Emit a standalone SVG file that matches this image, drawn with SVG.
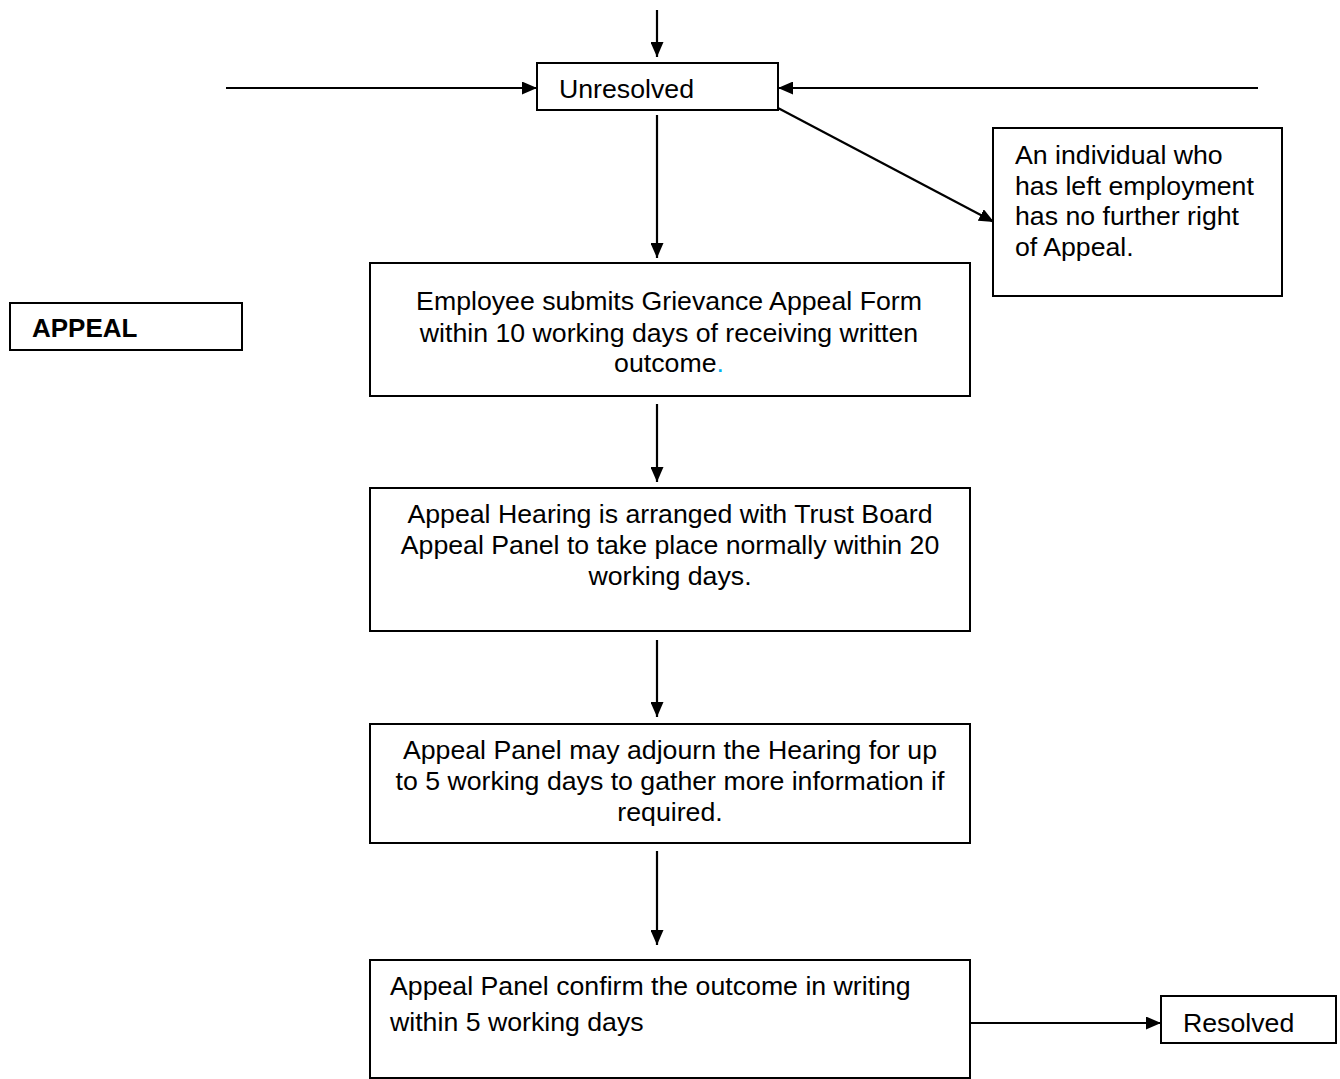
<svg xmlns="http://www.w3.org/2000/svg" width="1340" height="1079" viewBox="0 0 1340 1079">
<style>
.box{fill:#fff;stroke:#000;stroke-width:2}
.t{font-family:"Liberation Sans",Arial,sans-serif;font-size:26.7px;fill:#000}
.c{text-anchor:middle}
.b{font-weight:bold;font-size:26px}
.ln{stroke:#000;stroke-width:2.2;fill:none;marker-end:url(#ah)}
</style>
<defs>
<marker id="ah" viewBox="0 0 15 13" refX="15" refY="6.5" markerWidth="15" markerHeight="13" markerUnits="userSpaceOnUse" orient="auto">
<path d="M0,0 L15,6.5 L0,13 z" fill="#000"/>
</marker>
</defs>
<g id="connectors">
<line class="ln" x1="657" y1="10" x2="657" y2="57"/>
<line class="ln" x1="226" y1="88" x2="537" y2="88"/>
<line class="ln" x1="1258" y1="88" x2="778" y2="88"/>
<line class="ln" x1="778" y1="108" x2="994" y2="222"/>
<line class="ln" x1="657" y1="115" x2="657" y2="258"/>
<line class="ln" x1="657" y1="404" x2="657" y2="482"/>
<line class="ln" x1="657" y1="640" x2="657" y2="717"/>
<line class="ln" x1="657" y1="851" x2="657" y2="945"/>
<line class="ln" x1="970" y1="1023" x2="1161" y2="1023"/>
</g>
<g id="unresolved">
<rect class="box" x="537" y="63" width="241" height="47"/>
<text class="t" x="559" y="98">Unresolved</text>
</g>
<g id="left-employment">
<rect class="box" x="993" y="128" width="289" height="168"/>
<text class="t" x="1015" y="164">An individual who</text>
<text class="t" x="1015" y="195">has left employment</text>
<text class="t" x="1015" y="225">has no further right</text>
<text class="t" x="1015" y="256">of Appeal.</text>
</g>
<g id="appeal-label">
<rect class="box" x="10" y="303" width="232" height="47"/>
<text class="t b" x="32" y="337">APPEAL</text>
</g>
<g id="submit-form">
<rect class="box" x="370" y="263" width="600" height="133"/>
<text class="t c" x="669" y="310">Employee submits Grievance Appeal Form</text>
<text class="t c" x="669" y="342">within 10 working days of receiving written</text>
<text class="t c" x="669" y="372">outcome<tspan fill="#00b0f0">.</tspan></text>
</g>
<g id="hearing-arranged">
<rect class="box" x="370" y="488" width="600" height="143"/>
<text class="t c" x="670" y="523">Appeal Hearing is arranged with Trust Board</text>
<text class="t c" x="670" y="554">Appeal Panel to take place normally within 20</text>
<text class="t c" x="670" y="585">working days.</text>
</g>
<g id="adjourn">
<rect class="box" x="370" y="724" width="600" height="119"/>
<text class="t c" x="670" y="759">Appeal Panel may adjourn the Hearing for up</text>
<text class="t c" x="670" y="790">to 5 working days to gather more information if</text>
<text class="t c" x="670" y="821">required.</text>
</g>
<g id="confirm-outcome">
<rect class="box" x="370" y="960" width="600" height="118"/>
<text class="t" x="390" y="995">Appeal Panel confirm the outcome in writing</text>
<text class="t" x="390" y="1031">within 5 working days</text>
</g>
<g id="resolved">
<rect class="box" x="1161" y="996" width="175" height="47"/>
<text class="t" x="1183" y="1032">Resolved</text>
</g>
</svg>
